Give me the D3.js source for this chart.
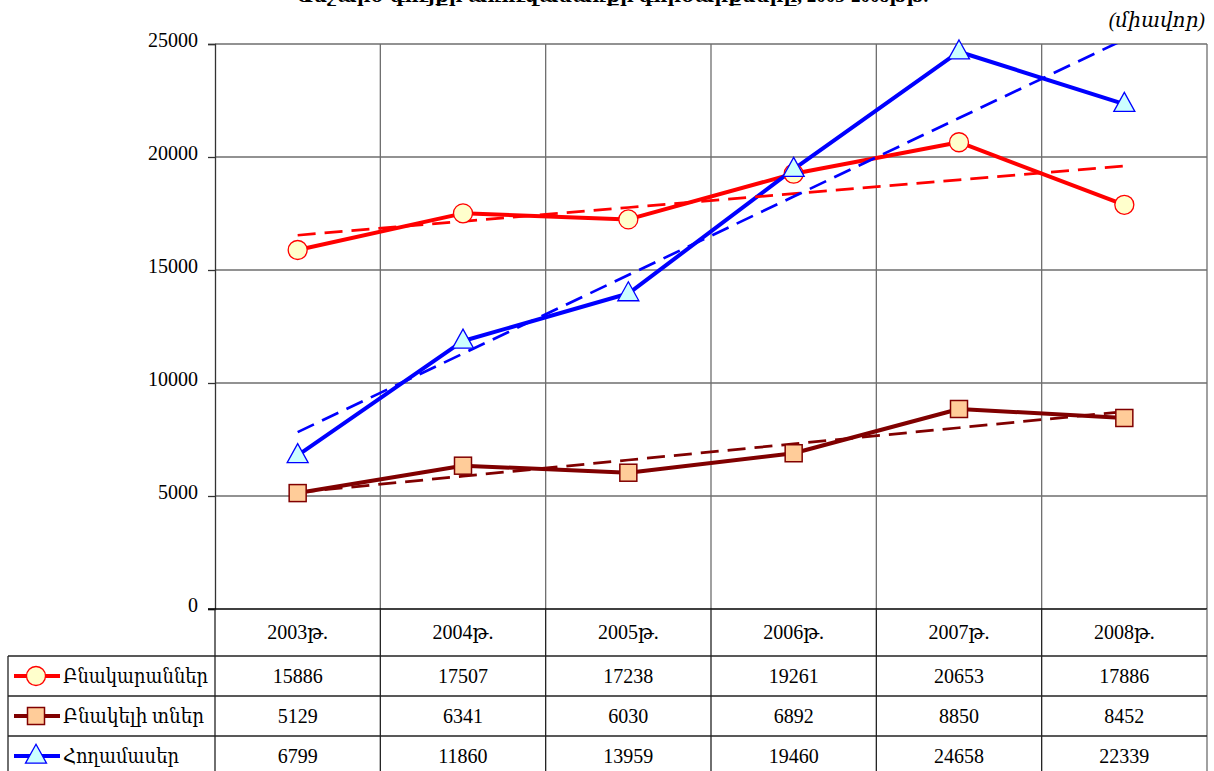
<!DOCTYPE html>
<html><head><meta charset="utf-8">
<script src="https://cdn.jsdelivr.net/npm/d3@7"></script>
<style>
html,body{margin:0;padding:0;background:#fff;}
svg{display:block;}
text{font-family:"Liberation Serif","DejaVu Serif",serif;fill:#000;}
</style></head><body>
<svg id="c" width="1214" height="771"></svg>
<script>
const categories = ["2003թ.","2004թ.","2005թ.","2006թ.","2007թ.","2008թ."];
const seriesNames = ["Բնակարաններ","Բնակելի տներ","Հողամասեր"];
const apartments = [15886,17507,17238,19261,20653,17886];
const houses = [5129,6341,6030,6892,8850,8452];
const landPlots = [6799,11860,13959,19460,24658,22339];
const yTicks = [0,5000,10000,15000,20000,25000];
const titleText = "Անշարժ գույքի առուվաճառքի գործարքները, 2003-2008թթ.";
const unitText = "(միավոր)";

const series = [
  {name:seriesNames[0], values:apartments, color:"#ff0000", fill:"#ffffcc", marker:"circle", w:145},
  {name:seriesNames[1], values:houses, color:"#800000", fill:"#ffcc99", marker:"square", w:141},
  {name:seriesNames[2], values:landPlots, color:"#0000ff", fill:"#ccffff", marker:"triangle", w:116}
];

const FS = "20px";
const svg = d3.select("#c");
const L = 215, R = 1207, T = 44, B = 609;
const x = d3.scaleBand().domain(categories).range([L,R]);
const y = d3.scaleLinear().domain([0,25000]).range([B,T]);
const cx = d => x(d) + x.bandwidth()/2;

// title (mostly off-canvas, as in the reference)
svg.append("text").attr("x",612).attr("y",2).attr("text-anchor","middle")
  .style("font-weight","bold").style("font-size","19px").text(titleText);
svg.append("text").attr("x",1205).attr("y",27).attr("text-anchor","end")
  .style("font-style","italic").style("font-size",FS).text(unitText);

// horizontal gridlines
svg.append("g").selectAll("line").data(yTicks.filter(t=>t>0)).join("line")
  .attr("x1",L).attr("x2",R).attr("y1",d=>y(d)).attr("y2",d=>y(d))
  .attr("stroke","#6e6e6e").attr("stroke-width",1.3);
// vertical category lines in plot
svg.append("g").selectAll("line").data(categories.slice(1)).join("line")
  .attr("x1",d=>x(d)).attr("x2",d=>x(d)).attr("y1",T).attr("y2",B)
  .attr("stroke","#6e6e6e").attr("stroke-width",1.3);
svg.append("line").attr("x1",R).attr("x2",R).attr("y1",T).attr("y2",B)
  .attr("stroke","#6e6e6e").attr("stroke-width",1.3);

// y axis
const yAxis = d3.axisLeft(y).tickValues(yTicks).tickSize(7).tickPadding(10).tickFormat(d3.format("d"));
const ya = svg.append("g").attr("transform",`translate(${L},0)`).call(yAxis);
ya.select(".domain").attr("stroke","#333").attr("stroke-width",1.3);
ya.selectAll(".tick line").attr("stroke","#333").attr("stroke-width",1.3);
ya.selectAll(".tick text").style("font-size",FS).style("font-family","'Liberation Serif','DejaVu Serif',serif").attr("dy","0.1em");

// table
const tableBottom = 771;
const rowY = [609,656,696,736,776];
const tbl = svg.append("g").attr("stroke","#222").attr("stroke-width",1.3);
tbl.append("line").attr("x1",L-7).attr("x2",R).attr("y1",B).attr("y2",B).attr("stroke","#000");
categories.forEach(c=>{
  tbl.append("line").attr("x1",x(c)).attr("x2",x(c)).attr("y1",B).attr("y2",tableBottom);
});
tbl.append("line").attr("x1",R).attr("x2",R).attr("y1",B).attr("y2",tableBottom).attr("stroke","#6e6e6e");
[656,696,736].forEach(yy=>{
  tbl.append("line").attr("x1",8).attr("x2",R).attr("y1",yy).attr("y2",yy);
});
tbl.append("line").attr("x1",8).attr("x2",8).attr("y1",656).attr("y2",tableBottom);

svg.append("g").selectAll("text").data(categories).join("text")
  .attr("x",d=>cx(d)).attr("y",639).attr("text-anchor","middle").style("font-size",FS).text(d=>d);

function drawMarker(g, type, px, py, s){
  if(type==="circle"){
    g.append("circle").attr("cx",px).attr("cy",py).attr("r",9.5)
      .attr("fill",s.fill).attr("stroke",s.color).attr("stroke-width",1.3);
  } else if(type==="square"){
    g.append("rect").attr("x",px-8.5).attr("y",py-8.5).attr("width",17).attr("height",17)
      .attr("fill",s.fill).attr("stroke",s.color).attr("stroke-width",1.5);
  } else {
    const h=19, w=21;
    g.append("path").attr("d",`M${px},${py-h*0.62}L${px+w/2},${py+h*0.38}L${px-w/2},${py+h*0.38}Z`)
      .attr("fill",s.fill).attr("stroke",s.color).attr("stroke-width",1.3);
  }
}

series.forEach((s,i)=>{
  const ry = (rowY[i+1]+rowY[i+2])/2;
  const g = svg.append("g");
  g.append("line").attr("x1",14).attr("x2",60).attr("y1",ry).attr("y2",ry).attr("stroke",s.color).attr("stroke-width",4);
  drawMarker(g, s.marker, 36, ry, s);
  g.append("text").attr("x",63).attr("y",ry+7).style("font-size",FS)
    .attr("textLength",s.w).attr("lengthAdjust","spacingAndGlyphs").text(s.name);
  g.selectAll("text.v").data(s.values).join("text").attr("class","v")
    .attr("x",(d,j)=>cx(categories[j])).attr("y",ry+7).attr("text-anchor","middle").style("font-size",FS).text(d=>d);
});

// plot clip
svg.append("clipPath").attr("id","pc").append("rect").attr("x",L).attr("y",T).attr("width",R-L).attr("height",B-T);
const plot = svg.append("g").attr("clip-path","url(#pc)");
const line = d3.line().x((d,j)=>cx(categories[j])).y(d=>y(d));

function trend(vals){
  const n=vals.length, xs=d3.range(n);
  const mx=d3.mean(xs), my=d3.mean(vals);
  const sxy=d3.sum(xs,(xi,j)=>(xi-mx)*(vals[j]-my));
  const sxx=d3.sum(xs,xi=>(xi-mx)*(xi-mx));
  const b=sxy/sxx, a=my-b*mx;
  return xs.map(xi=>a+b*xi);
}

series.forEach(s=>{
  plot.append("path").datum(s.values).attr("d",line).attr("fill","none")
    .attr("stroke",s.color).attr("stroke-width",4).attr("stroke-linejoin","round");
});
series.forEach(s=>{
  plot.append("path").datum(trend(s.values)).attr("d",line).attr("fill","none")
    .attr("stroke",s.color).attr("stroke-width",2.7).attr("stroke-dasharray","18,9");
});
const mk = svg.append("g");
series.forEach(s=>{
  s.values.forEach((v,j)=>drawMarker(mk, s.marker, cx(categories[j]), y(v), s));
});
</script>
</body></html>
